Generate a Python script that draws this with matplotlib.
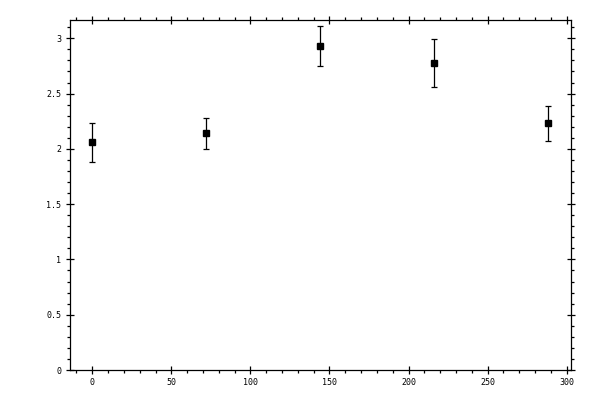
import numpy as np
import matplotlib
matplotlib.use('Agg')
import matplotlib.pyplot as plt
from matplotlib.ticker import MultipleLocator

# valores
x_vals = [0, 72, 144, 216, 288]
y_vals = [2.06, 2.14, 2.93, 2.78, 2.23]
err_low = [0.18, 0.14, 0.18, 0.22, 0.16]
err_high = [0.17, 0.14, 0.18, 0.21, 0.16]

x_ticks = [0, 50, 100, 150, 200, 250, 300]
y_ticks = [0, 0.5, 1, 1.5, 2, 2.5, 3]

plt.rcParams['font.family'] = 'DejaVu Sans Mono'

fig = plt.figure(figsize=(6, 4), dpi=100)
ax = fig.add_axes([69.5 / 600, 30 / 400, (570.5 - 69.5) / 600, (370 - 19.5) / 400])

ax.errorbar(x_vals, y_vals, yerr=[err_low, err_high], fmt='s', color='black',
            markersize=4.8, elinewidth=0.9, capsize=2, capthick=0.9)

ax.set_xlim(-14.4, 302.4)
ax.set_ylim(0, 3.17)
ax.set_xticks(x_ticks)
ax.set_xticklabels([str(v) for v in x_ticks])
ax.set_yticks(y_ticks)
ax.set_yticklabels(['0', '0.5', '1', '1.5', '2', '2.5', '3'])
ax.xaxis.set_minor_locator(MultipleLocator(10))
ax.yaxis.set_minor_locator(MultipleLocator(0.1))

for side in ax.spines.values():
    side.set_linewidth(0.9)

ax.tick_params(which='major', direction='inout', length=6, width=0.9,
               top=True, right=True, labelsize=6, pad=3)
ax.tick_params(which='minor', direction='out', length=2.5, width=0.9,
               top=True, right=True)

fig.savefig('out.png', dpi=100)
